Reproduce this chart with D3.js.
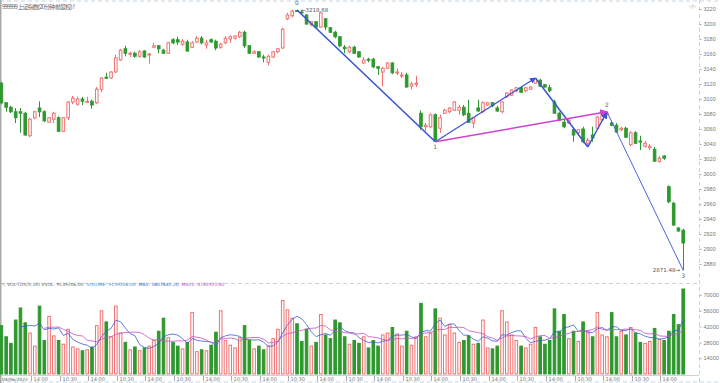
<!DOCTYPE html>
<html>
<head>
<meta charset="utf-8">
<script src="https://cdn.jsdelivr.net/npm/d3@7"></script>
<style>
body { margin: 0; background: #fff; }
svg { display: block; font-family: "DejaVu Sans", sans-serif; }
</style>
</head>
<body>
<div id="chart"></div>
<script>
// 20 minute bars, 144 of them
const opens = [3121,3095,3089,3083,3083,3081,3051,3075,3088,3083, 3069,3073,3075,3057,3075,3096,3093,3100,3096,3097,3095,3113,
  3129,3128,3136,3152,3167,3160,3161,3157,3164,3159,3169,3171, 3165,3161,3179,3179,3173,3176,3169,3176,3181,3172,3179,3177,
  3169,3175,3180,3181,3183,3189,3171,3161,3163,3156,3149,3156, 3163,3168,3207,3211,3218,3216,3212,3199,3203,3196,3207,3195,
  3189,3183,3169,3163,3169,3163,3148,3153,3153,3143,3136,3141, 3148,3135,3131,3132,3117,3120,3081,3063,3063,3079,3061,3081,
  3083,3085,3085,3089,3081,3068,3088,3083,3092,3095,3088,3083, 3103,3105,3111,3115,3111,3113,3121,3125,3119,3115,3096,3081,
  3069,3068,3059,3055,3060,3041,3052,3061,3072,3079,3068,3065, 3059,3061,3039,3055,3044,3037,3035,3033,3017,3024,2983,2961,
  2928,2925]
const highs = [3123,3096,3091,3088,3088,3083,3075,3084,3097,3085, 3076,3083,3077,3076,3097,3104,3103,3103,3103,3099,3116,3129,
  3135,3137,3159,3167,3171,3163,3163,3165,3165,3161,3175,3172, 3167,3176,3181,3183,3180,3179,3177,3184,3184,3179,3181,3179,
  3175,3184,3185,3185,3191,3191,3172,3165,3164,3159,3159,3164, 3168,3195,3215,3219,3218.68,3218,3213,3204,3204,3216,3208,3196,
  3191,3184,3172,3171,3171,3164,3156,3155,3155,3144,3143,3149, 3149,3141,3136,3135,3123,3131,3085,3068,3081,3081,3079,3087,
  3089,3097,3092,3092,3099,3076,3099,3097,3096,3096,3091,3097, 3109,3113,3116,3117,3116,3117,3128,3127,3120,3119,3099,3083,
  3072,3073,3061,3060,3063,3048,3063,3077,3083,3083,3071,3068, 3063,3063,3057,3057,3051,3044,3040,3036,3024,3025,2985,2963,
  2929,2927]
const lows = [3093,3083,3081,3068,3055,3051,3049,3073,3076,3069, 3068,3068,3056,3056,3072,3093,3091,3092,3095,3087,3093,3109,
  3127,3127,3135,3151,3157,3156,3155,3155,3155,3147,3168,3161, 3160,3160,3173,3172,3171,3163,3168,3175,3173,3167,3175,3165,
  3167,3173,3175,3179,3181,3168,3160,3160,3155,3149,3145,3155, 3161,3167,3205,3209,3216,3212,3199,3197,3195,3195,3192,3188,
  3181,3169,3161,3161,3160,3155,3147,3149,3141,3132,3117,3140, 3133,3132,3128,3115,3113,3116,3059,3057,3061,3043,3055,3080,
  3081,3084,3079,3077,3068,3061,3083,3081,3091,3089,3083,3081, 3101,3104,3109,3108,3109,3112,3120,3116,3115,3109,3081,3071,
  3061,3067,3043,3051,3041,3036,3043,3060,3071,3077,3064,3055, 3057,3048,3037,3040,3032,3035,3032,3016,3015,3019,2961,2931,
  2923,2871.48]
const closes = [3095,3089,3083,3075,3081,3052,3073,3083,3083,3071, 3075,3081,3057,3075,3096,3101,3100,3097,3097,3092,3113,3128,
  3128,3136,3155,3165,3161,3161,3157,3163,3156,3160,3171,3167, 3161,3175,3175,3176,3177,3164,3175,3181,3175,3175,3176,3168,
  3173,3181,3183,3184,3189,3171,3161,3163,3156,3155,3157,3163, 3167,3193,3212,3217,3217,3215,3200,3203,3196,3215,3196,3189,
  3183,3171,3167,3169,3161,3156,3152,3152,3143,3141,3141,3148, 3135,3136,3132,3116,3120,3121,3063,3065,3079,3044,3075,3085,
  3088,3096,3089,3079,3069,3075,3084,3095,3095,3091,3084,3096, 3108,3112,3115,3109,3115,3116,3127,3117,3116,3111,3081,3072,
  3063,3072,3052,3059,3043,3045,3048,3076,3081,3081,3065,3056, 3061,3049,3055,3041,3043,3041,3037,3017,3021,3021,2963,2932,
  2924,2908]
const volumes = [5200000,4000000,3300000,5800000,7100000,5500000,4400000,3000000,7300000,3600000,
  6200000,4100000,3600000,3200000,4800000,2900000,2700000,2500000,2600000,2900000,5200000,6800000,
  5600000,4000000,7300000,4400000,3400000,2600000,2900000,2500000,2800000,3000000,3600000,4600000,
  6000000,3900000,3400000,3000000,2700000,3400000,6600000,2400000,2600000,2500000,3100000,4500000,
  6800000,3600000,3100000,2800000,3900000,5200000,3600000,2700000,3000000,2600000,3000000,3800000,
  4800000,7900000,6900000,6000000,5400000,3500000,4800000,3000000,3400000,6400000,4200000,3800000,
  5800000,5500000,4000000,3200000,3600000,3300000,4000000,2800000,3600000,3000000,4200000,4400000,
  5000000,4300000,3000000,4600000,3100000,4000000,7600000,4000000,4400000,7000000,6000000,4200000,
  5300000,4400000,3400000,3600000,4100000,3200000,3300000,5800000,2800000,2700000,3000000,6800000,
  5600000,4200000,3600000,3000000,2800000,3200000,5000000,4000000,3200000,3600000,7000000,4600000,
  6400000,3800000,4600000,3500000,5600000,4600000,4000000,6600000,4200000,4000000,6600000,4000000,
  4600000,4200000,5000000,4400000,3400000,3300000,3500000,4900000,3700000,3600000,4600000,6400000,
  5300000,9139206]

const priceTicks = [2880,2900,2920,2940,2960,2980,3000,3020,3040,3060,3080,3100,3120,3140,3160,3180,3200,3220]
const volTicks = [1700000,3400000,5100000,6800000,8500000]
const volTickLabels = ["14000","28000","42000","56000","70000"]
const timeTickIdx = [7,13,19,25,31,37,43,49,55,61,67,73,79,85,91,97,103,109,115,121,127,133,139]
const timeTickLabels = ["14:00","10:30","14:00","10:30","14:00","10:30","14:00","10:30","14:00","10:30","14:00","10:30",
  "14:00","10:30","14:00","10:30","14:00","10:30","14:00","10:30","14:00","10:30","14:00"]
const firstDate = "04/06/2022"
// wave marks: bar index, price, label
const waveIdx = [62, 91, 112, 123, 127, 143]
const wavePrice = [3218.68, 3043, 3128, 3036, 3083, 2871.48]
const waveLabel = ["0", "1", "", "", "2", "3"]

const W = 720, H = 383
const red = "#f07070", green = "#2e982e", grey = "#777"

const svg = d3.select("#chart").append("svg")
    .attr("width", W)
    .attr("height", H)

const x = d3.scaleBand()
    .domain(d3.range(opens.length))
    .range([-0.4, 685])
    .paddingInner(0.25)

const y = d3.scaleLinear()
    .domain([2880, 3220])
    .range([264, 9])

const vy = d3.scaleLinear()
    .domain([0, 9139206])
    .range([374, 289])

const cx = i => x(i) + x.bandwidth() / 2

// frame
svg.append("line").attr("x1", 0).attr("x2", W).attr("y1", 1).attr("y2", 1)
   .attr("stroke", "#c4d4e4").attr("stroke-dasharray", "4,3")
svg.append("line").attr("x1", 0).attr("x2", 699).attr("y1", 283.5).attr("y2", 283.5)
   .attr("stroke", "#c4d4e4").attr("stroke-dasharray", "4,3")
svg.append("line").attr("x1", 0).attr("x2", 699).attr("y1", 375.5).attr("y2", 375.5)
   .attr("stroke", "#c4d4e4")
svg.append("line").attr("x1", 0).attr("x2", W).attr("y1", 382).attr("y2", 382)
   .attr("stroke", "#c4d4e4").attr("stroke-dasharray", "4,3")
svg.append("line").attr("x1", 699.5).attr("x2", 699.5).attr("y1", 0).attr("y2", H)
   .attr("stroke", "#c4d4e4").attr("stroke-dasharray", "4,3")
svg.append("rect").attr("x", 0).attr("y", 0).attr("width", 1.5).attr("height", H).attr("fill", "#a3ada3")

// right price axis
const pAxis = svg.append("g").attr("transform", "translate(699.5,0)")
    .call(d3.axisRight(y).tickValues(priceTicks).tickSize(2).tickFormat(d3.format("d")))
pAxis.select(".domain").remove()
pAxis.selectAll("line").attr("stroke", "#aab")
pAxis.selectAll("text").attr("fill", grey).attr("font-size", 5.5).attr("x", 4)

// right volume axis
const vAxis = svg.append("g").attr("transform", "translate(699.5,0)")
    .call(d3.axisRight(vy).tickValues(volTicks).tickSize(2).tickFormat((d, i) => volTickLabels[i]))
vAxis.select(".domain").remove()
vAxis.selectAll("line").attr("stroke", "#aab")
vAxis.selectAll("text").attr("fill", grey).attr("font-size", 5.5).attr("x", 4)

// candles
const candles = svg.append("g").selectAll("g")
    .data(opens.map((o, i) => ({ i, o, h: highs[i], l: lows[i], c: closes[i] })))
    .join("g")

candles.append("line")
    .attr("x1", d => Math.floor(cx(d.i)) + 0.5).attr("x2", d => Math.floor(cx(d.i)) + 0.5)
    .attr("y1", d => y(d.h)).attr("y2", d => y(Math.max(d.o, d.c)))
    .attr("stroke", d => d.c >= d.o ? red : green)
candles.append("line")
    .attr("x1", d => Math.floor(cx(d.i)) + 0.5).attr("x2", d => Math.floor(cx(d.i)) + 0.5)
    .attr("y1", d => y(Math.min(d.o, d.c))).attr("y2", d => y(d.l))
    .attr("stroke", d => d.c >= d.o ? red : green)
candles.append("rect")
    .attr("x", d => x(d.i) + 0.5)
    .attr("y", d => y(Math.max(d.o, d.c)))
    .attr("width", x.bandwidth() - 1)
    .attr("height", d => Math.max(1, Math.abs(y(d.o) - y(d.c))))
    .attr("fill", d => d.c >= d.o ? "#fff" : green)
    .attr("stroke", d => d.c >= d.o ? red : green)
    .attr("stroke-width", 1)

// wave lines
const wp = i => [cx(waveIdx[i]), y(wavePrice[i])]
const defs = svg.append("defs")
const arrow = (id, color) => defs.append("marker").attr("id", id)
    .attr("viewBox", "0 0 10 10").attr("refX", 9).attr("refY", 5)
    .attr("markerWidth", 5).attr("markerHeight", 5).attr("orient", "auto")
    .append("path").attr("d", "M0,0L10,5L0,10z").attr("fill", color)
arrow("ab", "#3a55d0")
arrow("am", "#d040d0")

const seg = (a, b, color, w, mk) => {
    const p = svg.append("line")
        .attr("x1", wp(a)[0]).attr("y1", wp(a)[1])
        .attr("x2", wp(b)[0]).attr("y2", wp(b)[1])
        .attr("stroke", color).attr("stroke-width", w)
    if (mk) p.attr("marker-end", "url(#" + mk + ")")
}
seg(0, 1, "#3a55d0", 1.6)
seg(1, 2, "#3a55d0", 1.2, "ab")
seg(2, 3, "#3a55d0", 1.5)
seg(3, 4, "#3a55d0", 1.5, "ab")
seg(4, 5, "#4a65d8", 1)
seg(1, 4, "#d040d0", 1.5, "am")

const labelDy = [-5, 7, 0, 0, -5, 8]
waveLabel.forEach((t, i) => {
    if (!t) return
    svg.append("text").attr("x", wp(i)[0]).attr("y", wp(i)[1] + labelDy[i])
       .attr("text-anchor", "middle").attr("font-size", 6).attr("fill", "#666").text(t)
})
svg.append("text").attr("x", wp(0)[0] + 4).attr("y", wp(0)[1] + 2)
   .attr("font-size", 5.5).attr("fill", "#555").text("\u2190" + d3.format(".2f")(wavePrice[0]))
svg.append("text").attr("x", wp(5)[0] - 3).attr("y", wp(5)[1] + 2)
   .attr("text-anchor", "end").attr("font-size", 5.5).attr("fill", "#555").text(d3.format(".2f")(wavePrice[5]) + "\u2192")

// volume bars
svg.append("g").selectAll("rect")
    .data(volumes)
    .join("rect")
    .attr("x", (d, i) => x(i) + 0.5)
    .attr("y", d => vy(d))
    .attr("width", x.bandwidth() - 1)
    .attr("height", d => vy(0) - vy(d))
    .attr("fill", (d, i) => closes[i] >= opens[i] ? "#fff" : green)
    .attr("stroke", (d, i) => closes[i] >= opens[i] ? red : green)

// volume moving averages
const ma = n => volumes.map((d, i) => i < n - 1 ? null : d3.mean(volumes.slice(i - n + 1, i + 1)))
const ma5 = ma(5), ma10 = ma(10)
const vline = d3.line().defined(d => d != null).x((d, i) => cx(i)).y(d => vy(d))
svg.append("path").attr("d", vline(ma5)).attr("fill", "none").attr("stroke", "#3a5ad8").attr("stroke-width", 0.8)
svg.append("path").attr("d", vline(ma10)).attr("fill", "none").attr("stroke", "#c050c0").attr("stroke-width", 0.8)

// titles
svg.append("text").attr("x", 2).attr("y", 9).attr("font-size", 6)
   .attr("font-family", "Noto Sans CJK SC").attr("fill", "#666")
   .attr("textLength", 73).text("999999 上证指数(20分钟 前复权) ?")
svg.append("text").attr("x", 689).attr("y", 8).attr("font-size", 5).attr("fill", "#aaa").text("\u25c1\u25b7")

const last = volumes.length - 1
const vt = svg.append("text").attr("x", 2).attr("y", 286).attr("font-size", 4.5)
vt.append("tspan").attr("fill", "#666").text("\u25bd VOL-TDX(5,10) VVOL: " + d3.format(".2f")(volumes[last]))
vt.append("tspan").attr("fill", "#4a86d0").attr("dx", 3).text("VOLUME: " + d3.format(".2f")(volumes[last]))
vt.append("tspan").attr("fill", "#3a5ad8").attr("dx", 3).text("MA5: " + d3.format(".2f")(ma5[last]))
vt.append("tspan").attr("fill", "#c050c0").attr("dx", 3).text("MA10: " + d3.format(".2f")(ma10[last]))

// time axis
const tg = svg.append("g")
timeTickIdx.forEach((k, j) => {
    const tx = Math.round(x(k)) - 1.5
    tg.append("line").attr("x1", tx).attr("x2", tx).attr("y1", 376).attr("y2", 381).attr("stroke", "#aab")
    tg.append("text").attr("x", tx + 2).attr("y", 380.5).attr("font-size", 5).attr("fill", grey).text(timeTickLabels[j])
})
tg.append("text").attr("x", 2).attr("y", 380.5).attr("font-size", 4.5).attr("fill", "#555").text(firstDate)
</script>
</body>
</html>
